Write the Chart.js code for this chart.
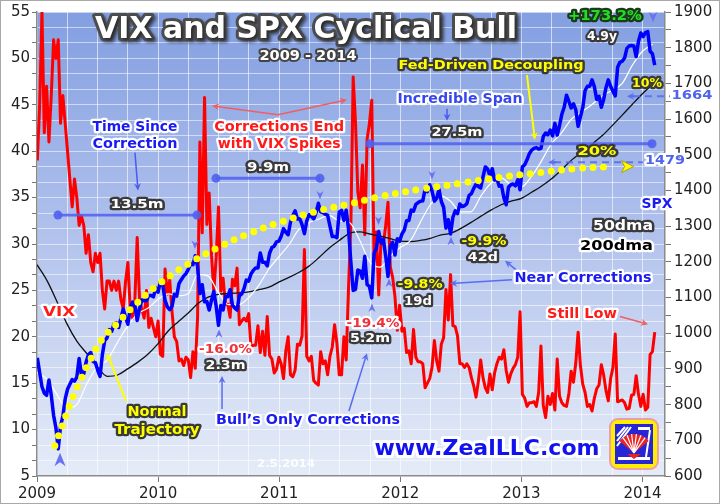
<!DOCTYPE html>
<html>
<head>
<meta charset="utf-8">
<script src="https://cdn.jsdelivr.net/npm/chart.js@4.4.1/dist/chart.umd.min.js"></script>
<style>
  html, body { margin: 0; padding: 0; background: #fff; }
  #wrap { width: 720px; height: 504px; }
</style>
</head>
<body>
<div id="wrap"><canvas id="chart" width="720" height="504"></canvas></div>
<script>
// weekly closes, first week ending 2009-01-02
const firstWeek = '2009-01-02';

const spxWeekly = [
    // 2009
    931, 890, 850, 832, 826, 869, 826, 770, 735, 676, 740, 768,
    816, 843, 857, 870, 866, 877, 929, 883, 887, 919,
    940, 946, 921, 918, 896, 879, 940, 979, 987,
    1010, 1005, 1026, 1029, 1016, 1042, 1068, 1044,
    1025, 1071, 1087, 1079, 1036, 1069, 1093, 1091, 1091,
    1106, 1106, 1102, 1127,
    // 2010
    1115, 1145, 1136, 1092, 1074, 1066, 1075, 1109, 1104,
    1139, 1150, 1160, 1167, 1179, 1194, 1192, 1217, 1187,
    1111, 1136, 1088, 1089, 1065, 1092, 1117, 1076,
    1022, 1078, 1065, 1102, 1102, 1122, 1079, 1071, 1065,
    1105, 1110, 1125, 1149, 1146, 1166, 1176, 1183, 1183,
    1225, 1199, 1199, 1189, 1224, 1240, 1244, 1256, 1258,
    // 2011
    1272, 1293, 1283, 1276, 1311, 1329, 1343, 1320,
    1321, 1304, 1279, 1314, 1332, 1328, 1320, 1337, 1364,
    1340, 1338, 1333, 1331, 1300, 1271, 1271, 1268,
    1340, 1344, 1316, 1345, 1292, 1199, 1120, 1123, 1177,
    1174, 1154, 1216, 1136, 1131, 1099, 1224, 1238, 1285,
    1253, 1263, 1216, 1159, 1244, 1255, 1219, 1265, 1258,
    // 2012
    1278, 1289, 1315, 1316, 1345, 1342, 1361, 1366,
    1370, 1371, 1404, 1397, 1416, 1398, 1370, 1378, 1403,
    1369, 1353, 1295, 1318, 1278, 1325, 1343, 1335, 1362,
    1355, 1357, 1363, 1386, 1391, 1406, 1418, 1411, 1407,
    1438, 1466, 1460, 1441, 1461, 1429, 1433, 1412,
    1414, 1380, 1360, 1409, 1416, 1418, 1413, 1430, 1402,
    // 2013
    1466, 1472, 1486, 1503, 1513, 1518, 1520, 1516,
    1518, 1551, 1561, 1556, 1569, 1553, 1588, 1555, 1582,
    1614, 1633, 1667, 1650, 1631, 1643, 1626, 1580, 1606,
    1632, 1680, 1692, 1692, 1710, 1691, 1655, 1664, 1633,
    1655, 1688, 1710, 1692, 1678, 1665, 1745, 1759,
    1762, 1771, 1798, 1805, 1806, 1805, 1775, 1818, 1841,
    // 2014
    1831, 1842, 1845, 1790, 1783, 1751
];

const vixWeekly = [
    // 2009
    39, 45, 55, 42, 47, 41, 46, 52, 50, 52, 43, 46,
    43, 40, 37, 34, 37, 35, 32, 33, 32, 29,
    31, 28, 27, 29, 28, 29, 25, 23, 26,
    26, 25, 26, 25, 26, 24, 23, 26,
    28, 23, 22, 24, 30.7, 24, 23, 22, 25,
    21, 22, 21, 20,
    // 2010
    21.7, 18.1, 17.9, 27.3, 24.6, 26.1, 22.7, 20.0, 19.5,
    17.4, 17.6, 16.9, 17.8, 17.5, 15.6, 18.4, 16.6, 22.1,
    41.0, 31.2, 45.8, 32.1, 35.5, 28.8, 24.9, 28.5,
    34.0, 24.9, 26.3, 23.5, 23.5, 22.1, 26.2, 25.5, 27.4,
    21.3, 21.7, 22.0, 21.7, 22.5, 18.9, 19.1, 19.1, 21.2,
    18.3, 20.6, 18.0, 22.2, 18.0, 17.6, 16.1, 16.5, 17.8,
    // 2011
    17.1, 15.5, 18.5, 20.0, 15.9, 15.7, 16.4, 19.2,
    19.1, 20.1, 29.4, 17.9, 17.4, 17.9, 15.3, 15.0, 14.8,
    18.4, 17.1, 17.4, 15.9, 17.9, 18.9, 21.3, 19.3,
    15.9, 15.9, 20.0, 17.5, 25.3, 32.0, 48.0, 43.1, 35.6,
    33.9, 38.5, 31.0, 41.3, 43.0, 45.5, 28.2, 31.3, 24.5,
    30.5, 30.0, 32.0, 34.5, 27.5, 26.4, 24.3, 20.7, 23.4,
    // 2012
    20.6, 20.9, 18.3, 18.5, 17.1, 20.8, 17.8, 17.3,
    17.3, 17.1, 14.5, 15.0, 15.5, 16.7, 19.6, 17.4, 16.3,
    19.2, 19.9, 25.1, 21.8, 26.7, 21.2, 21.1, 20.1, 17.1,
    17.1, 16.7, 17.1, 16.7, 15.6, 14.7, 13.5, 15.2, 17.5,
    15.6, 14.5, 14.0, 16.0, 14.3, 16.1, 17.1, 17.8,
    17.6, 18.6, 16.4, 15.1, 16.0, 16.6, 17.0, 17.8, 22.7,
    // 2013
    13.8, 13.4, 12.5, 12.9, 12.9, 13.0, 12.5, 14.0,
    19.0, 12.6, 11.3, 13.6, 12.7, 13.9, 12.1, 17.6, 13.6,
    12.9, 12.6, 12.5, 13.8, 16.3, 15.1, 17.2, 20.5, 16.9,
    14.9, 14.0, 12.5, 12.7, 12.0, 13.4, 14.4, 14.8, 17.0,
    15.9, 14.2, 13.1, 15.5, 16.7, 20.3, 13.0, 13.1,
    13.2, 12.9, 12.2, 12.3, 13.7, 13.8, 15.8, 13.8, 12.5,
    // 2014
    13.8, 12.1, 12.4, 18.1, 18.4, 20.5
];

// moving averages, first of each month from Jan 2009
const firstMonth = '2009-01-01';
const sma50 = [
    890, 870, 830, 790, 800, 860, 905, 925, 975, 1020, 1055, 1070,
    1095, 1110, 1105, 1110, 1165, 1160, 1115, 1080, 1080, 1100, 1135, 1180,
    1215, 1250, 1290, 1310, 1320, 1330, 1315, 1310, 1260, 1200, 1185, 1215,
    1240, 1260, 1310, 1360, 1385, 1370, 1340, 1340, 1385, 1420, 1435, 1415,
    1410, 1440, 1480, 1530, 1560, 1600, 1620, 1640, 1665, 1680, 1700, 1750,
    1790, 1810
];
const sma200 = [
    1192, 1146, 1091, 1027, 978, 942, 907, 879, 883, 900, 919, 941,
    971, 1007, 1031, 1056, 1083, 1101, 1109, 1111, 1113, 1116, 1122, 1129,
    1144, 1157, 1170, 1188, 1212, 1239, 1260, 1280, 1284, 1278, 1272, 1265,
    1258, 1257, 1260, 1266, 1275, 1280, 1293, 1310, 1328, 1345, 1360, 1370,
    1378, 1395, 1411, 1432, 1457, 1485, 1507, 1529, 1553, 1581, 1611, 1641,
    1671, 1698
];

// yellow dotted "normal trajectory"
const trajDates = ['2009-02-24', '2009-03-20', '2009-04-13', '2009-05-11', '2009-06-10', '2009-07-16',
    '2009-08-30', '2009-10-18', '2010-01-01', '2010-03-29', '2010-06-28', '2010-09-29', '2011-01-04',
    '2011-04-13', '2011-07-25', '2011-11-07', '2012-03-01', '2012-06-29', '2012-10-28', '2013-02-26',
    '2013-06-26', '2013-09-30'];
const trajValues = [685, 746, 807, 866, 924, 983, 1027, 1075, 1136, 1192, 1239, 1278, 1311,
    1339, 1361, 1384, 1403, 1420, 1437, 1450, 1462, 1467];

const yearTicks = [2009, 2010, 2011, 2012, 2013, 2014];

// --- helpers ---
function toYear(d) {
    const y = d.getUTCFullYear();
    const a = Date.UTC(y, 0, 1), b = Date.UTC(y + 1, 0, 1);
    return y + (d.getTime() - a) / (b - a);
}
function dateYear(str) { return toYear(new Date(str + 'T00:00:00Z')); }

const weekStart = new Date(firstWeek + 'T00:00:00Z').getTime();
const weekX = spxWeekly.map((_, i) => toYear(new Date(weekStart + i * 7 * 86400000)));
const m0 = new Date(firstMonth + 'T00:00:00Z');
const monthX = sma50.map((_, i) => toYear(new Date(Date.UTC(m0.getUTCFullYear(), m0.getUTCMonth() + i, 1))));

const pts = (xs, ys) => ys.map((v, i) => ({ x: xs[i], y: v }));

// --- annotations (x in years, y in SPX units) ---
const BLUE = '#1a1af2', RED = '#ff1a1a', YEL = '#ffff00', DARK = '#3a3a3a';
const texts = [
    ['Time Since', 2009.809, 1576, 14, 85, BLUE, '#ffffff'],
    ['Correction', 2009.809, 1528, 14, 85, BLUE, '#ffffff'],
    ['13.5m', 2009.826, 1361, 13, 53, '#ffffff', DARK],
    ['Corrections End', 2011.0, 1576, 14, 130, RED, '#ffffff'],
    ['with VIX Spikes', 2011.0, 1528, 14, 123, RED, '#ffffff'],
    ['9.9m', 2010.908, 1464, 13, 42, '#ffffff', DARK],
    ['Incredible Span', 2012.493, 1654, 14, 125, '#3747f0', '#ffffff'],
    ['27.5m', 2012.468, 1562, 13, 51, '#ffffff', DARK],
    ['Fed-Driven Decoupling', 2012.749, 1751, 13, 185, YEL, DARK],
    ['+173.2%', 2013.69, 1888, 14, 74, '#22dd22', '#1b3a1b'],
    ['4.9y', 2013.666, 1832, 13, 30, '#ffffff', DARK],
    ['10%', 2014.037, 1698, 13, 30, YEL, DARK],
    ['1664', 2014.409, 1667, 13, 41, '#4f63ee', '#ffffff'],
    ['20%', 2013.624, 1509, 13, 39, YEL, DARK],
    ['1479', 2014.186, 1484, 13, 40, '#4f63ee', '#ffffff'],
    ['SPX', 2014.12, 1361, 14, 31, BLUE, '#ffffff'],
    ['50dma', 2013.839, 1300, 14, 60, '#ffffff', DARK],
    ['200dma', 2013.785, 1244, 14, 73, '#000000', '#ffffff'],
    ['-9.9%', 2012.691, 1256, 13, 45, YEL, DARK],
    ['42d', 2012.682, 1211, 13, 30, '#ffffff', DARK],
    ['-9.8%', 2012.163, 1136, 13, 45, YEL, DARK],
    ['19d', 2012.146, 1089, 13, 28, '#ffffff', DARK],
    ['Near Corrections', 2013.509, 1155, 14, 137, BLUE, '#ffffff'],
    ['Still Low', 2013.5, 1052, 14, 70, RED, '#ffffff'],
    ['-19.4%', 2011.775, 1027, 13, 53, '#f2303a', '#ffffff'],
    ['5.2m', 2011.75, 986, 13, 40, '#ffffff', DARK],
    ['-16.0%', 2010.557, 955, 13, 53, '#f2303a', '#ffffff'],
    ['2.3m', 2010.557, 910, 13, 40, '#ffffff', DARK],
    ['VIX', 2009.182, 1058, 14, 32, RED, '#ffffff'],
    ['Normal', 2009.991, 777, 14, 59, YEL, DARK],
    ['Trajectory', 2009.991, 727, 14, 85, YEL, DARK],
    ['Bull\u2019s Only Corrections', 2011.238, 757, 14, 184, BLUE, '#ffffff'],
    ['www.ZealLLC.com', 2012.716, 674, 22, 225, '#1212ee', '#ffffff'],
];

const arrows = [
    [2009.809, 1506, 2009.834, 1400, '#4a5cf0'],
    [2010.99, 1612, 2010.445, 1637, '#ee6060'],
    [2010.99, 1612, 2011.56, 1654, '#ee6060'],
    [2012.386, 1629, 2012.386, 1595, '#4a5cf0'],
    [2013.046, 1723, 2013.112, 1542, YEL],
    [2012.922, 1150, 2012.41, 1139, '#5a6cf0'],
    [2012.955, 1178, 2012.865, 1203, '#5a6cf0'],
    [2013.814, 1047, 2014.046, 1025, '#ee6060'],
    [2009.735, 810, 2009.578, 944, YEL],
    [2010.528, 788, 2010.528, 880, '#5a6cf0'],
    [2011.576, 782, 2011.725, 944, '#5a6cf0'],
];

const spans = [
    [2009.173, 2010.321, 1331],
    [2010.478, 2011.337, 1434],
    [2011.75, 2014.079, 1531],
];

const levels = [
    [2013.872, 2014.227, 1664],
    [2013.22, 2014.004, 1479],
];

const carets = [
    [2010.305, 1250, -1, 5], [2011.337, 1389, -1, 5], [2011.82, 1317, -1, 5],
    [2012.262, 1445, -1, 5], [2014.087, 1888, -1, 6],
    [2009.19, 643, 1, 8], [2010.503, 997, 1, 5], [2011.766, 1069, 1, 5],
    [2011.907, 1139, 1, 5], [2012.419, 1256, 1, 5],
];

function drawText(ctx, t, x, y, size, w, fill, stroke, lw) {
    ctx.save();
    ctx.font = `bold ${size}px "DejaVu Sans", Verdana, sans-serif`;
    const mw = ctx.measureText(t).width;
    ctx.translate(x, y);
    if (w) ctx.scale(w / mw, 1);
    ctx.textAlign = 'center';
    ctx.textBaseline = 'middle';
    if (stroke) {
        ctx.lineJoin = 'round';
        ctx.lineWidth = lw || 4;
        ctx.strokeStyle = stroke;
        ctx.strokeText(t, 0, 0);
    }
    ctx.fillStyle = fill;
    ctx.fillText(t, 0, 0);
    ctx.restore();
}

function drawArrow(ctx, x0, y0, x1, y1, color, width, head) {
    const a = Math.atan2(y1 - y0, x1 - x0);
    ctx.save();
    ctx.strokeStyle = color; ctx.fillStyle = color; ctx.lineWidth = width;
    ctx.beginPath(); ctx.moveTo(x0, y0); ctx.lineTo(x1 - Math.cos(a) * head * 0.6, y1 - Math.sin(a) * head * 0.6); ctx.stroke();
    ctx.beginPath();
    ctx.moveTo(x1, y1);
    ctx.lineTo(x1 - head * Math.cos(a - 0.45), y1 - head * Math.sin(a - 0.45));
    ctx.lineTo(x1 - head * 0.6 * Math.cos(a), y1 - head * 0.6 * Math.sin(a));
    ctx.lineTo(x1 - head * Math.cos(a + 0.45), y1 - head * Math.sin(a + 0.45));
    ctx.closePath(); ctx.fill();
    ctx.restore();
}

function drawCaret(ctx, x, y, dir, s) {
    ctx.save();
    ctx.fillStyle = '#6a72f2';
    ctx.beginPath();
    ctx.moveTo(x, y - dir * s);
    ctx.lineTo(x + s * 0.7, y + dir * s * 0.7);
    ctx.lineTo(x, y + dir * s * 0.2);
    ctx.lineTo(x - s * 0.7, y + dir * s * 0.7);
    ctx.closePath(); ctx.fill();
    ctx.restore();
}

function drawLogo(ctx, l, t) {
    ctx.save();
    ctx.fillStyle = 'rgba(240,130,130,0.7)';
    ctx.beginPath(); ctx.roundRect(l - 2, t - 2, 50, 52, 9); ctx.fill();
    ctx.fillStyle = '#ffee00';
    ctx.beginPath(); ctx.roundRect(l, t, 46, 48, 7); ctx.fill();
    ctx.fillStyle = '#2626d6';
    ctx.fillRect(l + 4, t + 4, 38, 40);
    ctx.strokeStyle = '#ffffff'; ctx.lineWidth = 2;
    for (let k = 0; k < 3; k++) {
        ctx.beginPath(); ctx.moveTo(l + 6, t + 16 + k * 5); ctx.lineTo(l + 14 + k * 3, t + 7); ctx.stroke();
    }
    ctx.fillStyle = '#ffffff';
    ctx.fillRect(l + 27, t + 7, 12, 3);
    ctx.fillRect(l + 7, t + 37, 32, 3);
    ctx.beginPath(); ctx.moveTo(l + 39, t + 10); ctx.lineTo(l + 35, t + 37); ctx.stroke();
    const cx = l + 23, cy = t + 33;
    ctx.fillStyle = '#ee2222';
    ctx.beginPath(); ctx.moveTo(cx, cy); ctx.arc(cx, cy, 19, -Math.PI * 0.78, -Math.PI * 0.22); ctx.closePath(); ctx.fill();
    ctx.strokeStyle = '#ffffff'; ctx.lineWidth = 1.2;
    for (let k = 1; k < 7; k++) {
        const a = -Math.PI * 0.78 + k * Math.PI * 0.56 / 7;
        ctx.beginPath(); ctx.moveTo(cx, cy); ctx.lineTo(cx + 19 * Math.cos(a), cy + 19 * Math.sin(a)); ctx.stroke();
    }
    ctx.fillStyle = '#ee2222';
    ctx.beginPath(); ctx.moveTo(cx - 7, cy + 1); ctx.lineTo(cx + 7, cy + 1); ctx.lineTo(cx, cy + 6); ctx.closePath(); ctx.fill();
    ctx.restore();
}

const isYear = v => Math.abs(v - Math.round(v)) < 1e-6 && yearTicks.includes(Math.round(v));

const backdrop = {
    id: 'backdrop',
    beforeDraw(chart) {
        const { ctx, chartArea: a } = chart;
        ctx.save();
        ctx.fillStyle = '#ffffff';
        ctx.fillRect(0, 0, chart.width, chart.height);
        const g = ctx.createLinearGradient(0, a.top, 0, a.bottom);
        g.addColorStop(0, '#839fe1');
        g.addColorStop(0.45, '#aebfec');
        g.addColorStop(0.8, '#d3ddf3');
        g.addColorStop(1, '#e5ecf8');
        ctx.fillStyle = g;
        ctx.fillRect(a.left, a.top, a.right - a.left, a.bottom - a.top);
        ctx.restore();
    },
    afterDatasetsDraw(chart) {
        const { ctx, chartArea: a } = chart;
        const xs = chart.scales.x, ys = chart.scales.spx;
        const X = v => xs.getPixelForValue(v), Y = v => ys.getPixelForValue(v);

        // time-since spans
        ctx.save();
        spans.forEach(([x0, x1, v]) => {
            ctx.strokeStyle = 'rgba(80,95,240,0.85)'; ctx.fillStyle = 'rgba(80,95,240,0.9)'; ctx.lineWidth = 3;
            ctx.beginPath(); ctx.moveTo(X(x0), Y(v)); ctx.lineTo(X(x1), Y(v)); ctx.stroke();
            [x0, x1].forEach(x => { ctx.beginPath(); ctx.arc(X(x), Y(v), 4.5, 0, Math.PI * 2); ctx.fill(); });
        });
        // dashed levels
        levels.forEach(([x0, x1, v]) => {
            ctx.strokeStyle = 'rgba(85,105,240,0.85)'; ctx.lineWidth = 2; ctx.setLineDash([7, 5]);
            ctx.beginPath(); ctx.moveTo(X(x0) + 6, Y(v)); ctx.lineTo(X(x1), Y(v)); ctx.stroke();
            ctx.setLineDash([]);
            drawArrow(ctx, X(x0) + 8, Y(v), X(x0), Y(v), 'rgba(85,105,240,0.9)', 2, 8);
        });
        ctx.restore();

        // end of trajectory
        const tx = X(dateYear(trajDates[trajDates.length - 1])) + 10, ty = Y(trajValues[trajValues.length - 1]);
        ctx.save();
        ctx.fillStyle = YEL; ctx.strokeStyle = '#b8a000'; ctx.lineWidth = 1;
        ctx.beginPath(); ctx.moveTo(tx + 12, ty); ctx.lineTo(tx, ty - 6); ctx.lineTo(tx + 3, ty); ctx.lineTo(tx, ty + 6); ctx.closePath();
        ctx.fill(); ctx.stroke();
        ctx.restore();

        arrows.forEach(([x0, y0, x1, y1, c]) => drawArrow(ctx, X(x0), Y(y0), X(x1), Y(y1), c, c === YEL ? 2 : 1.5, 8));
        carets.forEach(([x, v, d, s]) => drawCaret(ctx, X(x), Y(v), d, s));

        // title
        ctx.save();
        ctx.shadowColor = 'rgba(0,0,0,0.45)'; ctx.shadowOffsetX = 2; ctx.shadowOffsetY = 2; ctx.shadowBlur = 3;
        drawText(ctx, 'VIX and SPX Cyclical Bull', X(2011.221), Y(1849), 30, 422, '#ffffff', '#4d4d4d', 6);
        ctx.restore();
        drawText(ctx, '2009 - 2014', X(2011.238), Y(1776), 14, 97, '#ffffff', '#444444', 4);

        texts.forEach(([t, x, v, size, w, fill, stroke]) => {
            drawText(ctx, t, X(x), Y(v), size, w, fill, stroke, size > 20 ? 6 : 4.5);
        });
        ctx.save(); ctx.globalAlpha = 0.9;
        drawText(ctx, '2.5.2014', X(2011.056), Y(632), 11, 58, '#ffffff', null);
        ctx.restore();

        drawLogo(ctx, a.right - 54, a.bottom - 56);
    },
    afterDraw(chart) {
        const { ctx } = chart;
        ctx.save();
        ctx.strokeStyle = '#a8a8a8'; ctx.lineWidth = 1;
        ctx.strokeRect(0.5, 0.5, chart.width - 1, chart.height - 1);
        ctx.restore();
    }
};

const tickFont = { family: '"DejaVu Sans", Verdana, sans-serif', size: 15 };

new Chart(document.getElementById('chart'), {
    type: 'line',
    data: {
        datasets: [
            {
                label: 'Normal Trajectory', data: pts(trajDates.map(dateYear), trajValues), yAxisID: 'spx',
                borderColor: '#ffff00', borderWidth: 7, borderDash: [0, 10.5], borderCapStyle: 'round',
                tension: 0.4, order: 0
            },
            { label: 'SPX', data: pts(weekX, spxWeekly), yAxisID: 'spx', borderColor: '#0000ff', borderWidth: 3.5, order: 1 },
            {
                label: '50dma', data: pts(monthX, sma50), yAxisID: 'spx', borderColor: '#ffffff', borderWidth: 1.2,
                cubicInterpolationMode: 'monotone', order: 2
            },
            {
                label: '200dma', data: pts(monthX, sma200), yAxisID: 'spx', borderColor: '#111111', borderWidth: 1.3,
                cubicInterpolationMode: 'monotone', order: 3
            },
            { label: 'VIX', data: pts(weekX, vixWeekly), yAxisID: 'y', borderColor: '#ff0000', borderWidth: 3, order: 5 }
        ]
    },
    options: {
        responsive: false,
        animation: false,
        devicePixelRatio: 1,
        elements: { point: { radius: 0 }, line: { borderJoinStyle: 'round' } },
        layout: { padding: { top: 8, left: 0, right: 0, bottom: 0 } },
        plugins: { legend: { display: false }, tooltip: { enabled: false } },
        scales: {
            x: {
                type: 'linear', min: 2009, max: 2014.186,
                ticks: {
                    stepSize: 0.25, includeBounds: false, autoSkip: false, maxRotation: 0,
                    color: '#222', font: tickFont, padding: 3,
                    callback: v => isYear(v) ? String(Math.round(v)) : ''
                },
                grid: {
                    color: 'rgba(255,255,255,0.6)', lineWidth: 1, tickLength: 6,
                    tickColor: c => (c.tick && isYear(c.tick.value)) ? '#777' : 'rgba(0,0,0,0)'
                },
                border: { color: '#8a8a8a', width: 1.5 },
                afterFit: s => { s.height = 28; }
            },
            y: {
                type: 'linear', position: 'left', min: 5, max: 55,
                ticks: {
                    stepSize: 5 / 3, autoSkip: false, color: '#222', font: tickFont, padding: 2,
                    callback: v => { const r = Math.round(v); return (Math.abs(v - r) < 0.01 && r % 5 === 0) ? String(r) : ''; }
                },
                grid: { color: 'rgba(255,255,255,0.55)', lineWidth: 1, tickLength: 5, tickColor: '#777' },
                border: { color: '#8a8a8a', width: 1.5 },
                afterFit: s => { s.width = 37; }
            },
            spx: {
                type: 'linear', position: 'right', min: 600, max: 1900,
                ticks: {
                    stepSize: 50, autoSkip: false, color: '#222', font: tickFont, padding: 3,
                    callback: v => v % 100 === 0 ? String(v) : ''
                },
                grid: { drawOnChartArea: false, tickLength: 6, tickColor: '#777' },
                border: { color: '#8a8a8a', width: 1.5 },
                afterFit: s => { s.width = 55; }
            }
        }
    },
    plugins: [backdrop]
});
</script>
</body>
</html>
